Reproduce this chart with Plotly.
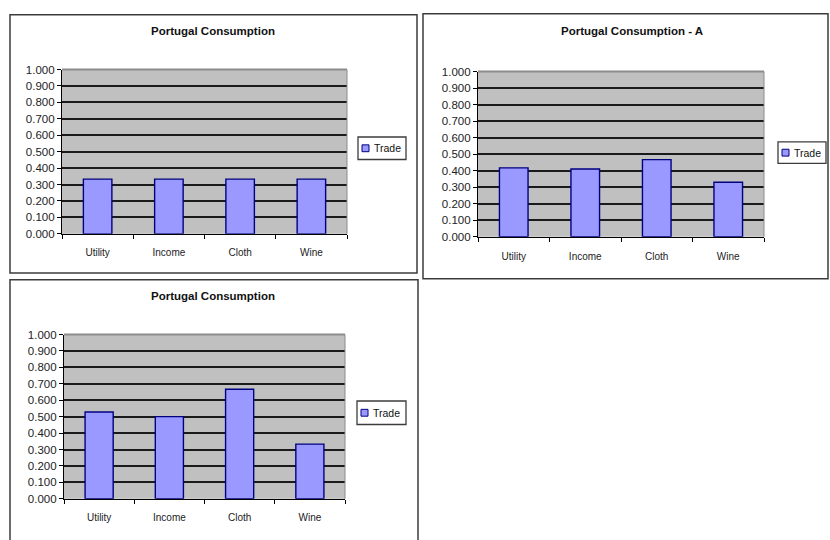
import plotly.graph_objects as go

# Consumption shares for Portugal under three scenarios
categories = ["Utility", "Income", "Cloth", "Wine"]
base_values = [0.333, 0.333, 0.333, 0.333]
scenario_a_values = [0.417, 0.410, 0.467, 0.330]
scenario_b_values = [0.528, 0.500, 0.667, 0.333]
y_ticks = [0.0, 0.1, 0.2, 0.3, 0.4, 0.5, 0.6, 0.7, 0.8, 0.9, 1.0]
titles = ["Portugal Consumption", "Portugal Consumption - A", "Portugal Consumption"]
series_name = "Trade"

W, H = 830, 540
FONT = "Arial, Liberation Sans, sans-serif"
BAR_FILL = "#9999FF"
BAR_EDGE = "#000080"
PLOT_BG = "#C0C0C0"


def px(x):
    return x / W


def py(y):
    return 1 - y / H


# Panel geometry in pixels: chart frame, plot area, title, legend box
panels = [
    dict(frame=(10, 9, 417, 273), plot=(62, 65, 347, 233), title=(213, 26),
         legend=(358, 134, 406, 157), standoff=9),
    dict(frame=(423, 8, 828, 279), plot=(478, 67, 764, 236), title=(632, 26),
         legend=(778, 139, 826, 161), standoff=10),
    dict(frame=(10, 280, 418, 550), plot=(64, 336, 345, 504), title=(213, 297),
         legend=(357, 404, 406, 428), standoff=9),
]
series = [base_values, scenario_a_values, scenario_b_values]

fig = go.Figure()
shapes = []
annotations = []

for i, (panel, values, title) in enumerate(zip(panels, series, titles)):
    n = "" if i == 0 else str(i + 1)
    fig.add_trace(go.Bar(
        x=categories, y=values, name=series_name,
        xaxis="x" + n, yaxis="y" + n,
        marker=dict(color=BAR_FILL, line=dict(color=BAR_EDGE, width=1.4)),
        showlegend=False,
    ))
    x0, y0, x1, y1 = panel["plot"]
    fig.layout["xaxis" + n] = dict(
        domain=[px(x0), px(x1)], anchor="y" + n,
        showline=True, linecolor="#000000", linewidth=1.2,
        ticks="outside", tickson="boundaries", ticklen=4, tickcolor="#000000",
        ticklabelstandoff=panel["standoff"],
        tickfont=dict(family=FONT, size=10, color="#222222"),
        showgrid=False, fixedrange=True,
    )
    fig.layout["yaxis" + n] = dict(
        domain=[py(y1), py(y0)], anchor="x" + n, range=[0, 1],
        tickvals=y_ticks, tickformat=".3f",
        showline=True, linecolor="#000000", linewidth=1.2,
        ticks="outside", ticklen=4, tickcolor="#000000",
        tickfont=dict(family=FONT, size=11.5, color="#222222"),
        showgrid=True, gridcolor="#1a1a1a", gridwidth=1.6,
        zeroline=False, fixedrange=True,
    )
    # plot-area edge on top and right
    shapes.append(dict(type="line", xref="x" + n + " domain", yref="y" + n + " domain",
                       x0=0, x1=1, y0=1, y1=1, line=dict(color="#8c8c8c", width=2), layer="above"))
    shapes.append(dict(type="line", xref="x" + n + " domain", yref="y" + n + " domain",
                       x0=1, x1=1, y0=0, y1=1, line=dict(color="#8c8c8c", width=1), layer="above"))
    # chart frame
    fx0, fy0, fx1, fy1 = panel["frame"]
    shapes.append(dict(type="rect", xref="paper", yref="paper",
                       x0=px(fx0), x1=px(fx1), y0=py(fy1), y1=py(fy0),
                       line=dict(color="#3c3c3c", width=1.5), layer="below"))
    # title
    tx, ty = panel["title"]
    annotations.append(dict(text="<b>" + title + "</b>", xref="paper", yref="paper",
                            x=px(tx), y=py(ty), xanchor="center", yanchor="middle",
                            showarrow=False, font=dict(family=FONT, size=11.5, color="#111111")))
    # legend box with swatch and series name
    lx0, ly0, lx1, ly1 = panel["legend"]
    shapes.append(dict(type="rect", xref="paper", yref="paper",
                       x0=px(lx0), x1=px(lx1), y0=py(ly1), y1=py(ly0),
                       line=dict(color="#3c3c3c", width=1.3), fillcolor="#ffffff"))
    cy = (ly0 + ly1) / 2
    shapes.append(dict(type="rect", xref="paper", yref="paper",
                       x0=px(lx0 + 4), x1=px(lx0 + 11), y0=py(cy + 3.5), y1=py(cy - 3.5),
                       line=dict(color=BAR_EDGE, width=1), fillcolor=BAR_FILL))
    annotations.append(dict(text=series_name, xref="paper", yref="paper",
                            x=px(lx0 + 14), y=py(cy), xanchor="left", yanchor="middle",
                            showarrow=False, font=dict(family=FONT, size=10.5, color="#111111")))

fig.update_layout(
    width=W, height=H,
    margin=dict(l=0, r=0, t=0, b=0),
    paper_bgcolor="#ffffff", plot_bgcolor=PLOT_BG,
    bargap=0.6,
    shapes=shapes, annotations=annotations,
    showlegend=False,
)

fig.write_html("out.html")
